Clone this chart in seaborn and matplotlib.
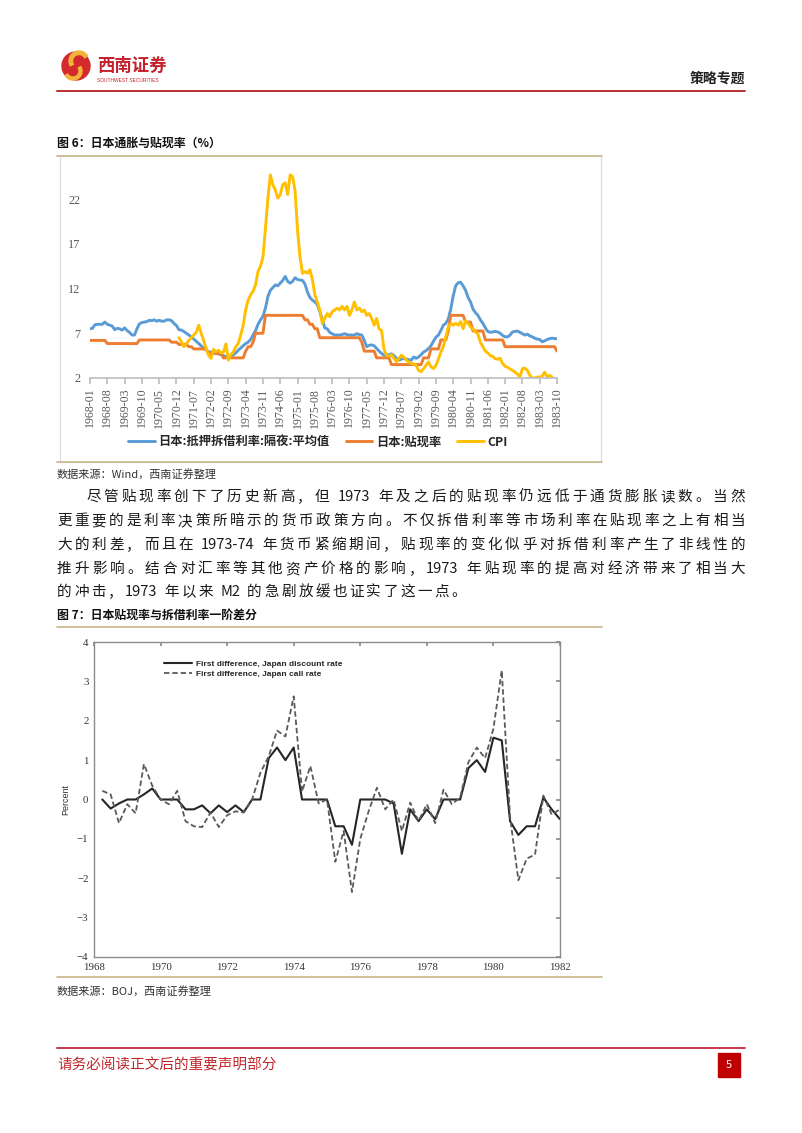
import re
import numpy as np
import pandas as pd
import seaborn as sns
import matplotlib.pyplot as plt
from matplotlib.patches import Rectangle, Circle, Wedge

# ---------- figure 6 data, monthly 1968-01 .. 1983-10 ----------
start_month = "1968-01"
end_month = "1983-10"

call_rate = [
    7.5, 7.55, 7.95, 8.0, 8.0, 8.0, 8.25, 8.0, 7.9, 7.8, 7.4, 7.55,
    7.5, 7.35, 7.6, 7.3, 7.1, 6.8, 6.8, 7.5, 8.05, 8.2, 8.25, 8.3,
    8.45, 8.4, 8.5, 8.35, 8.45, 8.35, 8.35, 8.5, 8.5, 8.4, 8.1, 7.85,
    7.4, 7.35, 7.2, 7.0, 6.8, 6.6, 6.35, 6.1, 5.85, 5.6, 5.3, 5.15,
    4.9, 4.9, 4.8, 4.75, 4.7, 4.6, 4.5, 4.4, 4.35, 4.4, 4.6, 4.8,
    5.1, 5.35, 5.6, 5.85, 6.0, 6.3, 6.8, 7.3, 8.0, 8.5, 8.9, 9.8,
    11.1, 11.8, 12.1, 12.4, 12.3, 12.6, 12.9, 13.35, 12.8, 12.6, 12.8, 13.2,
    13.0, 12.95, 12.9, 12.5, 11.6, 11.0, 10.7, 10.5, 10.2, 9.4, 8.6, 7.6,
    7.5, 7.1, 6.95, 6.8, 6.8, 6.8, 6.85, 6.95, 6.85, 6.8, 6.8, 6.8,
    6.95, 6.85, 6.8, 6.2, 5.5, 5.65, 5.7, 5.6, 5.3, 5.0, 4.75, 4.55,
    4.55, 4.6, 4.7, 4.5, 4.2, 4.0, 4.1, 4.2, 4.1, 4.05, 3.98, 4.35,
    4.2, 4.35, 4.6, 4.9, 5.05, 5.3, 5.6, 6.1, 6.55, 6.8, 7.3, 7.9,
    8.1, 8.6, 9.7, 11.2, 12.3, 12.65, 12.7, 12.3, 11.8, 11.0, 10.5, 9.7,
    9.3, 9.0, 8.5, 8.1, 7.6, 7.2, 7.1, 7.15, 7.2, 7.15, 7.0, 6.75,
    6.6, 6.6, 6.8, 7.15, 7.2, 7.25, 7.1, 6.95, 6.8, 6.9, 6.7, 6.6,
    6.45, 6.35, 6.3, 6.05, 6.15, 6.3, 6.4, 6.45, 6.4, 6.4,
]

discount_rate = [
    6.2, 6.2, 6.2, 6.2, 6.2, 6.2, 6.2, 5.85, 5.85, 5.85, 5.85, 5.85,
    5.85, 5.85, 5.85, 5.85, 5.85, 5.85, 5.85, 5.85, 6.25, 6.25, 6.25, 6.25,
    6.25, 6.25, 6.25, 6.25, 6.25, 6.25, 6.25, 6.25, 6.25, 6.0, 6.0, 6.0,
    5.75, 5.75, 5.75, 5.75, 5.5, 5.5, 5.25, 5.25, 5.25, 5.25, 5.25, 5.25,
    4.75, 4.75, 4.75, 4.75, 4.75, 4.75, 4.25, 4.25, 4.25, 4.25, 4.25, 4.25,
    4.25, 4.25, 4.25, 5.0, 5.5, 5.5, 6.0, 7.0, 7.0, 7.0, 7.0, 9.0,
    9.0, 9.0, 9.0, 9.0, 9.0, 9.0, 9.0, 9.0, 9.0, 9.0, 9.0, 9.0,
    9.0, 9.0, 9.0, 8.5, 8.5, 8.0, 8.0, 7.5, 7.5, 6.5, 6.5, 6.5,
    6.5, 6.5, 6.5, 6.5, 6.5, 6.5, 6.5, 6.5, 6.5, 6.5, 6.5, 6.5,
    6.5, 6.5, 6.0, 5.0, 5.0, 5.0, 5.0, 5.0, 4.25, 4.25, 4.25, 4.25,
    4.25, 4.25, 3.5, 3.5, 3.5, 3.5, 3.5, 3.5, 3.5, 3.5, 3.5, 3.5,
    3.5, 3.5, 3.5, 4.25, 4.25, 4.25, 5.25, 5.25, 5.25, 5.25, 6.25, 6.25,
    6.25, 7.25, 9.0, 9.0, 9.0, 9.0, 9.0, 9.0, 8.25, 8.25, 8.25, 7.25,
    7.25, 7.25, 7.25, 7.25, 6.25, 6.25, 6.25, 6.25, 6.25, 6.25, 6.25, 6.25,
    5.5, 5.5, 5.5, 5.5, 5.5, 5.5, 5.5, 5.5, 5.5, 5.5, 5.5, 5.5,
    5.5, 5.5, 5.5, 5.5, 5.5, 5.5, 5.5, 5.5, 5.5, 5.0,
]

cpi_start = "1971-01"
cpi = [
    6.5, 6.05, 5.5, 5.85, 6.2, 6.5, 6.8, 7.1, 7.9, 7.0, 6.2, 5.3,
    4.55, 4.2, 5.2, 4.9, 5.1, 4.8, 4.9, 5.8, 4.0, 4.6, 4.9, 5.5,
    5.85, 6.8, 7.9, 9.6, 10.7, 11.3, 11.7, 12.4, 13.9, 14.5, 15.5, 18.7,
    22.1, 24.7, 23.6, 23.0, 22.1, 22.5, 23.6, 23.8, 22.5, 24.7, 24.5, 22.9,
    18.5, 15.5, 13.7, 13.9, 13.7, 14.1, 13.0, 11.3, 10.5, 9.6, 8.1, 8.65,
    9.2, 8.85, 9.4, 9.6, 9.8, 9.6, 10.0, 9.6, 10.0, 9.0, 9.6, 10.5,
    9.6, 9.8, 9.4, 9.6, 9.0, 9.2, 8.65, 7.9, 8.65, 7.5, 7.3, 5.2,
    4.55, 4.4, 4.6, 4.2, 3.8, 4.2, 4.55, 4.35, 4.0, 3.8, 3.6, 3.6,
    3.4, 2.85, 2.7, 3.05, 3.4, 3.8, 3.25, 3.05, 3.4, 4.1, 4.9, 5.5,
    6.6, 7.7, 8.1, 7.9, 8.1, 7.9, 8.3, 7.5, 8.4, 8.1, 7.7, 7.5,
    7.15, 6.9, 6.0, 5.5, 5.0, 4.8, 4.5, 4.4, 4.15, 4.1, 4.2, 3.6,
    3.3, 3.2, 3.0, 2.85, 2.65, 2.45, 2.1, 3.05, 3.1, 2.85, 2.3, 2.0,
    2.0, 2.1, 2.1, 2.2, 2.65, 2.1, 2.3, 2.1,
]

y1_ticks = [2, 7, 12, 17, 22]
label_every = 7

# ---------- figure 7 data, quarterly from 1968 Q2 ----------
first_quarter = 1968.25
diff_discount = [
    0.0, -0.23, -0.1,
    0.0, 0.0, 0.13, 0.28,
    0.0, 0.0, 0.0, -0.25,
    -0.25, -0.15, -0.35, -0.15,
    -0.32, -0.15, -0.32, 0.0,
    0.0, 1.05, 1.32, 1.0,
    1.32, 0.0, 0.0, 0.0,
    0.0, -0.68, -0.68, -1.15,
    0.0, 0.0, 0.0, 0.0,
    -0.1, -1.38, -0.25, -0.55,
    -0.25, -0.5, 0.0, 0.0,
    0.0, 0.8, 1.0, 0.7,
    1.57, 1.5, -0.55, -0.9,
    -0.68, -0.68, 0.05, -0.25,
    -0.5,
]
diff_call = [
    0.22, 0.13, -0.6,
    -0.12, -0.35, 0.9, 0.35,
    0.0, -0.12, 0.22, -0.55,
    -0.68, -0.7, -0.33, -0.7,
    -0.4, -0.3, -0.33, 0.0,
    0.68, 1.1, 1.75, 1.6,
    2.62, 0.2, 0.85, -0.1,
    0.0, -1.58, -0.8, -2.35,
    -1.0, -0.3, 0.3, -0.25,
    0.0, -0.8, -0.08, -0.55,
    -0.12, -0.6, 0.25, -0.12,
    0.05, 0.95, 1.32, 1.05,
    1.8, 3.28, -0.45, -2.05,
    -1.5, -1.4, 0.1, -0.38,
    -0.25,
]

# ---------- tables ----------
months = pd.period_range(start_month, end_month, freq="M").strftime("%Y-%m")
df1 = pd.DataFrame({"month": months, "pos": np.arange(len(months)),
                    "call": call_rate, "disc": discount_rate})
cpi_months = pd.period_range(cpi_start, periods=len(cpi), freq="M").strftime("%Y-%m")
df1["cpi"] = pd.Series(cpi, index=cpi_months).reindex(df1["month"]).values

df2 = pd.DataFrame({"year": first_quarter + 0.25 * np.arange(len(diff_discount)),
                    "disc": diff_discount, "call": diff_call})

sns.set_theme(style="white")
CJK = ["Noto Sans CJK SC", "DejaVu Sans"]
SERIF = ["Liberation Serif", "DejaVu Serif"]
plt.rcParams["font.family"] = CJK

W, H = 802, 1133
fig = plt.figure(figsize=(W / 100, H / 100), dpi=100)
page = fig.add_axes([0, 0, 1, 1])
page.set_xlim(0, W)
page.set_ylim(H, 0)
page.axis("off")


def box(l, t, r, b):
    return [l / W, 1 - b / H, (r - l) / W, (b - t) / H]


# ---------- page furniture ----------
red = "#C3202B"
tan = "#CBBB90"
page.add_patch(Circle((76, 66), 14, color="#D42A2E"))
page.add_patch(Wedge((79, 61), 10, 150, 330, width=3.5, color="#F3B33B"))
page.add_patch(Wedge((73, 71), 9, 330, 150, width=3, color="#F3B33B"))
page.text(97, 66, "西南证券", color=red, fontsize=12.5, weight="bold", va="center")
page.text(97, 80, "SOUTHWEST SECURITIES", color=red, fontsize=3.5, va="center",
          family=["Liberation Sans"])
page.text(745, 79, "策略专题", fontsize=10, weight="bold", ha="right", va="center", color="#222222")
page.plot([57, 745], [91, 91], color="#B7312F", lw=1.4)

page.text(57, 143, "图 6：日本通胀与贴现率（%）", fontsize=8.6, weight="bold", va="center", color="#111111")
page.add_patch(Rectangle((60, 156), 541, 306, fill=False, ec="#DADADA", lw=0.8))
page.plot([57, 602], [156, 156], color=tan, lw=1.3)
page.plot([57, 602], [462, 462], color=tan, lw=1.3)
page.text(57, 474, "数据来源：Wind，西南证券整理", fontsize=8, style="italic", va="center", color="#333333")

page.text(57, 615, "图 7：日本贴现率与拆借利率一阶差分", fontsize=8.6, weight="bold", va="center", color="#111111")
page.plot([57, 602], [627, 627], color=tan, lw=1.3)
page.plot([57, 602], [977, 977], color=tan, lw=1.3)
page.text(57, 991, "数据来源：BOJ，西南证券整理", fontsize=8, style="italic", va="center", color="#333333")

page.plot([57, 745], [1048, 1048], color="#C9384A", lw=1.4)
page.text(57, 1065, "请务必阅读正文后的重要声明部分", fontsize=10.5, color="#C0272D", va="center")
page.add_patch(Rectangle((718, 1053), 22, 24, color="#C00000"))
page.text(729, 1065, "5", fontsize=8, color="white", ha="center", va="center")

# ---------- paragraph, justified by hand ----------
para = [
    "尽管贴现率创下了历史新高，但 1973 年及之后的贴现率仍远低于通货膨胀读数。当然",
    "更重要的是利率决策所暗示的货币政策方向。不仅拆借利率等市场利率在贴现率之上有相当",
    "大的利差，而且在 1973-74 年货币紧缩期间，贴现率的变化似乎对拆借利率产生了非线性的",
    "推升影响。结合对汇率等其他资产价格的影响，1973 年贴现率的提高对经济带来了相当大",
    "的冲击，1973 年以来 M2 的急剧放缓也证实了这一点。",
]
para_y = [497, 521, 545, 569, 592]
body_fs = 10.5
renderer = fig.canvas.get_renderer()
for i, (line, y) in enumerate(zip(para, para_y)):
    toks = re.findall(r"[A-Za-z0-9\-]+| |\S", line)
    objs, widths = [], []
    for t in toks:
        if t == " ":
            objs.append(None)
            widths.append(body_fs / 0.72 * 0.15)
        else:
            o = page.text(0, y, t, fontsize=body_fs, va="center", ha="left", color="#1a1a1a")
            objs.append(o)
            widths.append(o.get_window_extent(renderer).width)
    x0 = 86 if i == 0 else 57
    if i == len(para) - 1:
        gap = 2.4
    else:
        gap = (745 - x0 - sum(widths)) / (len(toks) - 1)
    x = x0
    for o, w in zip(objs, widths):
        if o is not None:
            o.set_x(x)
        x += w + gap

# ---------- figure 6 ----------
ax1 = fig.add_axes(box(90, 165, 557, 378))
sns.lineplot(data=df1, x="pos", y="call", ax=ax1, color="#5B9BD5", lw=2.1,
             label="日本:抵押拆借利率:隔夜:平均值")
sns.lineplot(data=df1, x="pos", y="disc", ax=ax1, color="#ED7D31", lw=2.1,
             label="日本:贴现率")
sns.lineplot(data=df1, x="pos", y="cpi", ax=ax1, color="#FFC000", lw=2.1, label="CPI")
ax1.set_xlim(0, len(df1) - 1)
ax1.set_ylim(2, 25.8)
ax1.set_yticks(y1_ticks)
ax1.set_xticks(df1["pos"][::label_every])
ax1.set_xticklabels(df1["month"][::label_every], rotation=90)
for sp in ["top", "right", "left"]:
    ax1.spines[sp].set_visible(False)
ax1.spines["bottom"].set_color("#BFBFBF")
ax1.tick_params(axis="x", bottom=True, length=4, color="#BFBFBF", labelsize=8.6,
                labelcolor="#595959", pad=3)
ax1.tick_params(axis="y", length=0, labelsize=8.8, labelcolor="#595959", pad=7)
for lb in ax1.get_xticklabels() + ax1.get_yticklabels():
    lb.set_family(SERIF)
ax1.set_xlabel("")
ax1.set_ylabel("")
ax1.grid(False)
h, l = ax1.get_legend_handles_labels()
ax1.legend(h, l, ncol=3, loc="center", bbox_to_anchor=(318 / W, 1 - 442 / H),
           bbox_transform=fig.transFigure, frameon=False, handlelength=2.2,
           handletextpad=0.3, columnspacing=1.3,
           prop={"family": CJK, "weight": "bold", "size": 8.8})

# ---------- figure 7 ----------
ax2 = fig.add_axes(box(94, 642, 560, 957))
sns.lineplot(data=df2, x="year", y="disc", ax=ax2, color="#262626", lw=1.5,
             label="First difference, Japan discount rate")
sns.lineplot(data=df2, x="year", y="call", ax=ax2, color="#5a5a5a", lw=1.3,
             ls=(0, (3, 1.6)), label="First difference, Japan call rate")
ax2.set_xlim(1968, 1982)
ax2.set_ylim(-4, 4)
ax2.set_xticks(range(1968, 1983, 2))
ax2.set_yticks(range(-4, 5))
for sp in ax2.spines.values():
    sp.set_color("#8C8C8C")
    sp.set_linewidth(1.0)
ax2.tick_params(direction="in", top=True, right=True, length=3, color="#8C8C8C",
                labelsize=7.8, labelcolor="#333333", pad=4)
for lb in ax2.get_xticklabels() + ax2.get_yticklabels():
    lb.set_family(SERIF)
ax2.set_xlabel("")
ax2.set_ylabel("Percent", fontsize=6.5, family=["Liberation Sans", "DejaVu Sans"],
               color="#333333", labelpad=5)
ax2.grid(False)
ax2.legend(loc="upper left", bbox_to_anchor=(160 / W, 1 - 656 / H),
           bbox_transform=fig.transFigure, frameon=False, handlelength=3.3,
           handletextpad=0.5, labelspacing=0.25, borderpad=0,
           prop={"family": ["Liberation Sans", "DejaVu Sans"], "weight": "bold", "size": 6.0})

fig.savefig("out.png", dpi=100)
